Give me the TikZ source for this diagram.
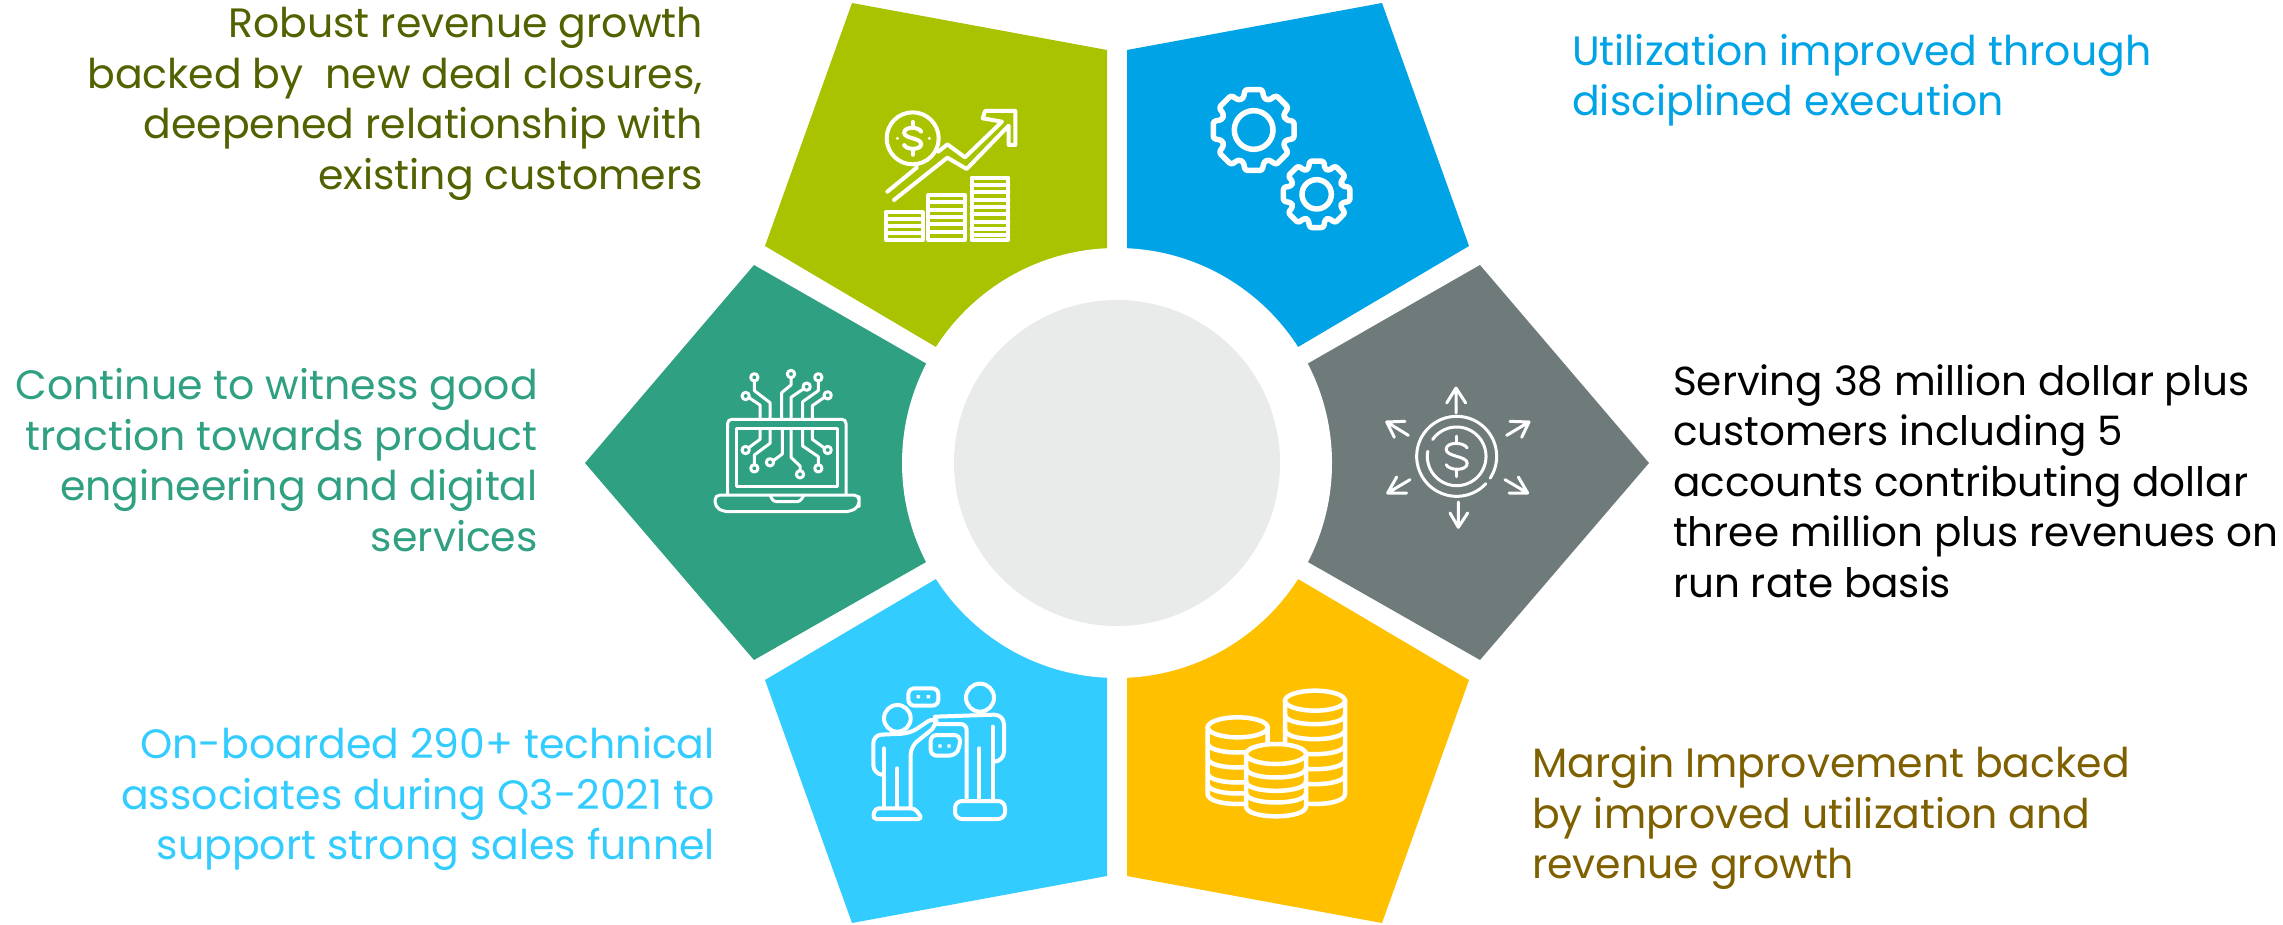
\documentclass[tikz,border=0pt]{standalone}
\usepackage{fontspec}
\setmainfont{Poppins}
\definecolor{cgreen}{HTML}{AAC300}
\definecolor{cblue}{HTML}{00A3E5}
\definecolor{cteal}{HTML}{2FA082}
\definecolor{cgrey}{HTML}{6E7B7A}
\definecolor{clight}{HTML}{33CCFF}
\definecolor{corange}{HTML}{FFC000}
\definecolor{ccentre}{HTML}{E9EBEB}
\definecolor{tolive}{HTML}{546100}
\definecolor{tbrown}{HTML}{7F6000}
\tikzset{
  label r/.style={font=\fontsize{41}{50.5}\selectfont,align=right,anchor=east,inner sep=0pt},
  label l/.style={font=\fontsize{41}{50.5}\selectfont,align=left,anchor=west,inner sep=0pt},
  ico/.style={draw=white,line width=#1,line cap=round,line join=round},
  zoomed/.style={x=0.33333pt,y=-0.33333pt}
}
\newcommand\dollarsign[3]{%
  \begin{scope}[shift={(#1,#2)},scale=#3]
    \path[draw=white] (0.75,-0.6) .. controls (0.5,-1.05) and (-0.75,-1.05) .. (-0.75,-0.5)
      .. controls (-0.75,0.05) and (0.75,-0.05) .. (0.75,0.5)
      .. controls (0.75,1.05) and (-0.5,1.05) .. (-0.75,0.6);
    \path[draw=white] (0,-1) -- (0,-1.45) (0,1) -- (0,1.45);
  \end{scope}}
\newcommand\gearshape[5]{%
  \draw[ico=5.5pt,rounded corners=2.5pt] ({#1+#4*cos(-18)},{#2+#4*sin(-18)})
    foreach \a in {0,45,...,315} {
      -- ({#1+#4*cos(\a-18)},{#2+#4*sin(\a-18)})
      -- ({#1+#3*cos(\a-12)},{#2+#3*sin(\a-12)})
      -- ({#1+#3*cos(\a+12)},{#2+#3*sin(\a+12)})
      -- ({#1+#4*cos(\a+18)},{#2+#4*sin(\a+18)})
    } -- cycle;
  \draw[ico=5.5pt] (#1,#2) circle[radius=#5];}
\newcommand\coinstack[4]{%
  \path[fill=corange,draw=white,line width=4.5pt,line join=round] (#1-90,#2) -- (#1-90,#3)
    .. controls (#1-90,#3+40) and (#1+90,#3+40) .. (#1+90,#3) -- (#1+90,#2) -- cycle;
  \path[fill=corange,draw=white,line width=4.5pt] (#1,#2) ellipse[x radius=90,y radius=30];
  \foreach \yy in {#4} {
    \draw[ico=4.5pt] (#1-90,\yy) .. controls (#1-90,\yy+38) and (#1+90,\yy+38) .. (#1+90,\yy);
  }}
\begin{document}
\begin{tikzpicture}[x=1pt,y=-1pt]
\useasboundingbox (0,0) rectangle (2283,925);
% petals
\fill[cgreen]  (1107,50) -- (852,3) -- (765,246) -- (1107,448) -- cycle;
\fill[cblue]   (1127,50) -- (1382,3) -- (1469,246) -- (1127,448) -- cycle;
\fill[cteal]   (754,265) -- (585,463) -- (754,660) -- (1100,463) -- cycle;
\fill[cgrey]   (1480,265) -- (1649,463) -- (1480,660) -- (1134,463) -- cycle;
\fill[clight]  (1107,876) -- (852,923) -- (765,680) -- (1107,478) -- cycle;
\fill[corange] (1127,876) -- (1382,923) -- (1469,680) -- (1127,478) -- cycle;
\fill[white] (1117,463) circle[radius=215];
\fill[ccentre] (1117,463) circle[radius=163];
% growth icon
\begin{scope}[shift={(870,95)},zoomed]
    \draw[ico=4pt] (128,130) circle[radius=78];
    \begin{scope}[line width=4pt,line cap=round]\dollarsign{128}{130}{34}\end{scope}
    \fill[white] (82,130) circle[radius=5] (178,130) circle[radius=5];
    \draw[ico=4pt] (52,290) -- (140,218) (205,170) -- (232,148) -- (285,187) -- (396,80) -- (338,70) -- (345,48) -- (436,48) -- (436,150) -- (416,150) -- (416,92) -- (290,222) -- (232,188) -- (72,315);
    \draw[ico=4pt] (48,352) rectangle (158,435);
    \draw[ico=4pt] (175,300) rectangle (285,435);
    \draw[ico=4pt] (305,248) rectangle (415,435);
    \foreach \yy in {372,393,414} \draw[ico=4pt] (48,\yy) -- (158,\yy);
    \foreach \yy in {322,344,366,388,410} \draw[ico=4pt] (175,\yy) -- (285,\yy);
    \foreach \yy in {270,292,314,336,358,380,402,420} \draw[ico=4pt] (305,\yy) -- (415,\yy);
\end{scope}
% gears icon
\begin{scope}[shift={(1195,75)},zoomed]
  \gearshape{176}{165}{124}{100}{58}
  \gearshape{365}{358}{102}{80}{44}
\end{scope}
% laptop icon
\begin{scope}[shift={(705,360)},zoomed]
  \draw[ico=3pt,rounded corners=4pt] (68,403) -- (68,178) -- (423,178) -- (423,403);
  \draw[ico=3pt] (95,205) rectangle (397,380);
  \draw[ico=3pt,rounded corners=5pt] (30,405) -- (462,405) -- (462,425) -- (462,440) -- (435,455) -- (55,455) -- (30,440) -- cycle;
  \draw[ico=3pt,rounded corners=3pt] (195,405) -- (205,425) -- (285,425) -- (297,405);
  \foreach \cx/\cy in {148/52,258/42,305/80,340/52,122/108,368/106,122/270,148/325,195/307,285/343,340/325,368/270}
    \draw[ico=3pt] (\cx,\cy) circle[radius=11];
  \draw[ico=3pt] (148,63) -- (148,92) -- (195,128) -- (195,178);
  \draw[ico=3pt] (258,53) -- (258,75) -- (230,98) -- (230,178);
  \draw[ico=3pt] (295,87) -- (258,112) -- (258,178);
  \draw[ico=3pt] (340,63) -- (340,92) -- (293,125) -- (293,178);
  \draw[ico=3pt] (132,113) -- (165,135) -- (165,178);
  \draw[ico=3pt] (358,112) -- (322,137) -- (322,178);
  \draw[ico=3pt] (130,264) -- (165,238) -- (165,205);
  \draw[ico=3pt] (148,314) -- (148,285) -- (195,250) -- (195,205);
  \draw[ico=3pt] (205,302) -- (232,282) -- (232,205);
  \draw[ico=3pt] (285,332) -- (285,318) -- (258,292) -- (258,205);
  \draw[ico=3pt] (340,314) -- (340,290) -- (293,258) -- (293,205);
  \draw[ico=3pt] (358,264) -- (322,238) -- (322,205);
\end{scope}
% dollar spread icon
\begin{scope}[shift={(1375,378)},zoomed]
  \draw[ico=3pt] plot[domain=43:393,samples=90] ({245+120*cos(\x)},{235+120*sin(\x)});
  \draw[ico=3pt] plot[domain=215:550,samples=90] ({245+88*cos(\x)},{235+88*sin(\x)});
  \begin{scope}[line width=3pt,line cap=round]\dollarsign{245}{235}{42}\end{scope}
  \draw[ico=3pt] (243,105) -- (243,30) (215,75) -- (243,30) -- (272,75);
  \draw[ico=3pt] (250,372) -- (250,448) (225,405) -- (250,448) -- (278,405);
  \draw[ico=3pt] (100,172) -- (35,132) (90,130) -- (35,132) -- (58,178);
  \draw[ico=3pt] (395,172) -- (462,132) (405,130) -- (462,132) -- (440,178);
  \draw[ico=3pt] (105,305) -- (38,345) (65,297) -- (38,345) -- (95,345);
  \draw[ico=3pt] (390,305) -- (458,345) (430,297) -- (458,345) -- (402,345);
\end{scope}
% people icon
\begin{scope}[shift={(860,705)},zoomed]
  \draw[ico=4pt] (112,40) circle[radius=40];
  \draw[ico=4pt] (360,-22) circle[radius=42];
  \draw[ico=4pt,rounded corners=8pt] (72,210) -- (40,205) -- (40,90) -- (150,85) -- (225,35) -- (232,60) -- (152,125) -- (152,310);
  \draw[ico=4pt] (72,130) -- (72,310) (112,190) -- (112,310);
  \draw[ico=4pt,rounded corners=4pt] (38,342) -- (45,310) -- (165,310) -- (187,342) -- cycle;
  \draw[ico=4pt,rounded corners=10pt] (225,35) -- (432,28) -- (432,170) -- (405,170);
  \draw[ico=4pt,rounded corners=6pt] (235,57) -- (320,57) -- (320,285);
  \draw[ico=4pt] (358,130) -- (358,285) (398,65) -- (398,285);
  \draw[ico=4pt,rounded corners=7pt] (285,342) -- (285,288) -- (435,288) -- (435,342) -- cycle;
  \draw[ico=4pt,rounded corners=6pt] (300,90) -- (212,90) -- (212,152) -- (285,152) -- (300,125) -- cycle;
  \fill[white] (235,118) rectangle (245,128) (262,118) rectangle (272,128);
  \draw[ico=4pt,rounded corners=6pt] (145,2) -- (235,2) -- (235,-50) -- (145,-50) -- cycle;
  \fill[white] (170,-30) rectangle (180,-20) (200,-30) rectangle (210,-20);
\end{scope}
% coins icon
\begin{scope}[shift={(1195,678)},zoomed]
  \coinstack{360}{68}{348}{110,155,200,245,290}
  \coinstack{128}{148}{348}{195,240,285,318}
  \coinstack{243}{228}{385}{270,310,345}
\end{scope}
% texts
\node[label r,text=tolive] (tgrowth) at (703,104) {Robust revenue growth\\backed by~ new deal closures,\\deepened relationship with\\existing customers};
\node[label l,text=cblue] (tutil) at (1572,80) {Utilization improved through\\disciplined execution};
\node[label r,text=cteal] (ttrac) at (538,460) {Continue to witness good\\traction towards product\\engineering and digital\\services};
\node[label l,text=black,font=\fontsize{40.5}{50.5}\selectfont] (tserv) at (1673,481) {Serving 38 million dollar plus\\customers including 5\\accounts contributing dollar\\three million plus revenues on\\run rate basis};
\node[label r,text=clight] (tboard) at (715,799) {On-boarded 290+ technical\\associates during Q3-2021 to\\support strong sales funnel};
\node[label l,text=tbrown] (tmarg) at (1532,818) {Margin Improvement backed\\by improved utilization and\\revenue growth};
\end{tikzpicture}
\end{document}
